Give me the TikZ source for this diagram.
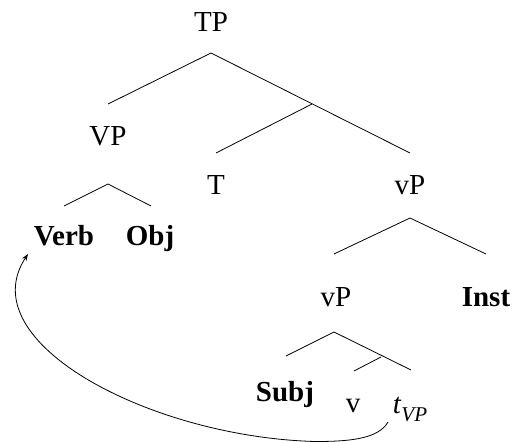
\documentclass[tikz,border=0pt]{standalone}
\usepackage{fontspec}
\setmainfont{Liberation Serif}
\usetikzlibrary{arrows.meta}
\begin{document}
\begin{tikzpicture}[x=1pt,y=1pt,
  lbl/.style={anchor=base,inner sep=0pt,font=\fontsize{29}{34}\selectfont},
  bl/.style={lbl,font=\fontsize{29}{34}\selectfont\bfseries},
  edge/.style={line width=0.8pt},
  move/.style={line width=0.8pt,-{Stealth[length=7pt,width=5pt]}}]
\useasboundingbox (0,0) rectangle (512,442);
% labels
\node[lbl] (tp) at (211,410) {TP};
\node[lbl] (vp) at (108,296) {VP};
\node[lbl] (t) at (216,247) {T};
\node[lbl] (vp1) at (410,247) {vP};
\node[bl] (verb) at (64,196) {Verb};
\node[bl] (obj) at (150,196) {Obj};
\node[lbl] (vp2) at (336,135) {vP};
\node[bl] (inst) at (486,135) {Inst};
\node[bl] (subj) at (285,40) {Subj};
\node[lbl] (v) at (353,29) {v};
\node[lbl] (tvp) at (410,28) {\textit{t}\raisebox{-0.25em}{\fontsize{21}{21}\selectfont\textit{VP}}};
% branch points
\coordinate (a1) at (211,389);
\coordinate (a1l) at (108,338);
\coordinate (a1r) at (410,289);
\coordinate (a2) at (312,338);
\coordinate (a2l) at (216,289);
\coordinate (a3) at (108,258);
\coordinate (a3l) at (64,236);
\coordinate (a3r) at (151,236);
\coordinate (a4) at (410,224);
\coordinate (a4l) at (334,188);
\coordinate (a4r) at (486,188);
\coordinate (a5) at (334,110);
\coordinate (a5l) at (286,86);
\coordinate (a5r) at (411,72);
\coordinate (a6) at (381,85);
\coordinate (a6l) at (354,71);
\draw[edge] (a1l) -- (a1) -- (a1r);
\draw[edge] (a2) -- (a2l);
\draw[edge] (a3l) -- (a3) -- (a3r);
\draw[edge] (a4l) -- (a4) -- (a4r);
\draw[edge] (a5l) -- (a5) -- (a5r);
\draw[edge] (a6) -- (a6l);
% movement arrow
\coordinate (mvstart) at (388,20);
\coordinate (mvlow) at (315,0.5);
\coordinate (mvend) at (28,188);
\draw[move] (mvstart) .. controls (378,2) and (345,0.5) .. (mvlow)
  .. controls (150,5) and (-30,100) .. (mvend);
\end{tikzpicture}
\end{document}
